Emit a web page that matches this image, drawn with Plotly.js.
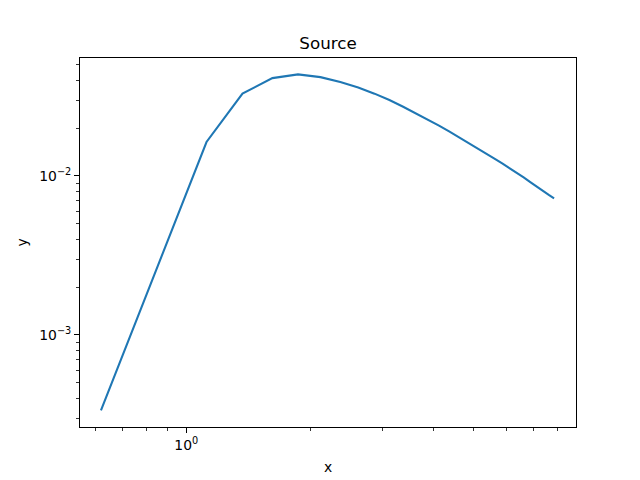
<!DOCTYPE html>
<html>
<head>
<meta charset="utf-8">
<script src="https://cdn.plot.ly/plotly-3.0.1.min.js"></script>
<style>html,body{margin:0;padding:0;background:#fff;}#chart{width:640px;height:480px;}</style>
</head>
<body>
<div id="chart"></div>
<script>
// Data (log-log)
const xValues = [0.62, 1.12, 1.37, 1.62, 1.87, 2.12, 2.37, 2.62, 2.87, 3.12, 3.37, 3.62, 3.87, 4.12, 4.37, 4.62, 4.87, 5.12, 5.37, 5.62, 5.87, 6.12, 6.37, 6.62, 6.87, 7.12, 7.37, 7.62, 7.85];
const yValues = [0.000335, 0.01634, 0.0329, 0.0412, 0.0435, 0.0418, 0.0389, 0.0360, 0.0329, 0.0300, 0.0272, 0.02475, 0.0227, 0.0207, 0.01897, 0.01745, 0.01611, 0.01492, 0.0138, 0.01284, 0.01199, 0.01121, 0.01049, 0.00979, 0.00914, 0.00854, 0.00806, 0.00759, 0.00722];

const xMajorVals = [1];
const xMajorText = ['10<sup>0</sup>'];
const xMinorVals = [0.6, 0.7, 0.8, 0.9, 2, 3, 4, 5, 6, 7, 8];
const yMajorVals = [0.001, 0.01];
const yMajorText = ['10<sup>\u22123</sup>', '10<sup>\u22122</sup>'];
const yMinorVals = [0.0003, 0.0004, 0.0005, 0.0006, 0.0007, 0.0008, 0.0009, 0.002, 0.003, 0.004, 0.005, 0.006, 0.007, 0.008, 0.009, 0.02, 0.03, 0.04, 0.05];

const font = {family: 'DejaVu Sans', size: 13.9, color: '#000'};

const trace = {
  x: xValues, y: yValues, type: 'scatter', mode: 'lines',
  line: {color: '#1f77b4', width: 2.08}, hoverinfo: 'none'
};

const axisCommon = {
  type: 'log', showgrid: false, zeroline: false,
  showline: true, linecolor: '#000', linewidth: 1, mirror: true,
  ticks: 'outside', ticklen: 5, tickwidth: 1, tickcolor: '#000',
  tickmode: 'array', tickfont: font
};

const layout = {
  width: 640, height: 480,
  margin: {l: 80, r: 64, t: 57.6, b: 52.8},
  paper_bgcolor: '#fff', plot_bgcolor: '#fff',
  showlegend: false,
  font: font,
  title: {text: 'Source', font: {family: 'DejaVu Sans', size: 16.7, color: '#000'},
          x: 0.5, xref: 'paper', xanchor: 'center', y: 1 - 43/480, yref: 'container', yanchor: 'middle'},
  xaxis: Object.assign({}, axisCommon, {
    range: [-0.2586, 0.9482],
    tickvals: xMajorVals, ticktext: xMajorText,
    minor: {tickvals: xMinorVals, ticklen: 3, tickwidth: 0.8, tickcolor: '#000', ticks: 'outside', showgrid: false},
    title: {text: 'x', font: font, standoff: 10}
  }),
  yaxis: Object.assign({}, axisCommon, {
    range: [-3.5788, -1.2586],
    tickvals: yMajorVals, ticktext: yMajorText,
    minor: {tickvals: yMinorVals, ticklen: 3, tickwidth: 0.8, tickcolor: '#000', ticks: 'outside', showgrid: false},
    title: {text: 'y', font: font, standoff: 8}
  })
};

Plotly.newPlot('chart', [trace], layout, {staticPlot: true, displayModeBar: false});
</script>
</body>
</html>
